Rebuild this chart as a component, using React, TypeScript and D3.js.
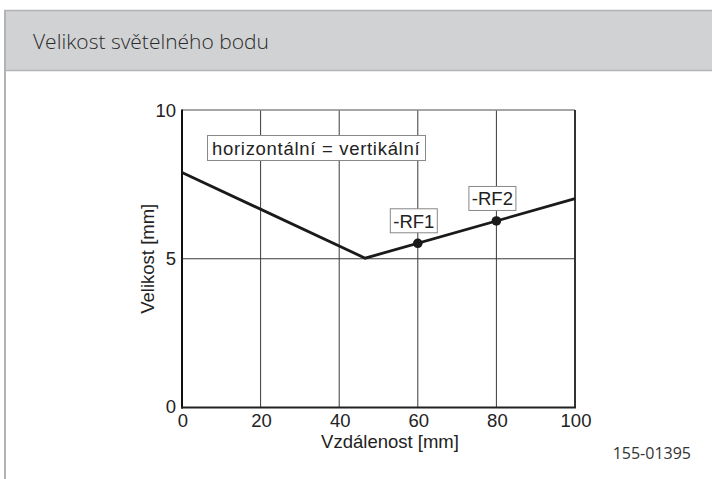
import React from "react";
import * as d3 from "d3";

const title = "Velikost světelného bodu";
const xLabel = "Vzdálenost [mm]";
const yLabel = "Velikost [mm]";
const legendText = "horizontální = vertikální";
const figId = "155-01395";

const xTicks = [0, 20, 40, 60, 80, 100];
const yTicks = [0, 5, 10];

const curveX = [0, 46.6, 100];
const curveY = [7.9, 5.02, 7.02];

const pointNames = ["-RF1", "-RF2"];
const pointX = [60, 80];
const pointY = [5.52, 6.27];

export default function App() {
  const W = 712, H = 479;
  const x = d3.scaleLinear().domain([0, 100]).range([182, 575]);
  const y = d3.scaleLinear().domain([0, 10]).range([407.5, 110]);
  const line = d3.line<number>().x((d, i) => x(curveX[i])).y((d, i) => y(curveY[i]));
  const font = "'Liberation Sans', Arial, sans-serif";
  const fs = 18.5;
  return (
    <svg width={W} height={H} style={{ position: "absolute", left: 0, top: 0, background: "#fff" }}>
      {/* header */}
      <rect x={4} y={10} width={W - 4} height={61} fill="#d1d2d4" />
      <line x1={4} x2={W} y1={10.5} y2={10.5} stroke="#b3b3b5" strokeWidth={1.5} />
      <line x1={4} x2={W} y1={70.5} y2={70.5} stroke="#b3b3b5" strokeWidth={1.5} />
      <line x1={5} x2={5} y1={10} y2={H} stroke="#b3b3b5" strokeWidth={2} />
      <text x={33} y={49} fontFamily="'Open Sans', sans-serif" fontSize={21} fontWeight={300} fill="#2b2b2b">{title}</text>

      {/* grid */}
      {xTicks.slice(1, -1).map((t) => (
        <line key={"gx" + t} x1={x(t)} x2={x(t)} y1={y(10)} y2={y(0)} stroke="#3a3a3a" strokeWidth={1} />
      ))}
      {yTicks.slice(1, -1).map((t) => (
        <line key={"gy" + t} x1={x(0)} x2={x(100)} y1={y(t)} y2={y(t)} stroke="#3a3a3a" strokeWidth={1} />
      ))}
      <line x1={x(0)} x2={x(100)} y1={y(10)} y2={y(10)} stroke="#888" strokeWidth={1.5} />
      <line x1={x(100)} x2={x(100)} y1={y(10)} y2={y(0)} stroke="#333" strokeWidth={2} />
      <line x1={x(0)} x2={x(0)} y1={y(10) - 0.5} y2={y(0) + 1} stroke="#111" strokeWidth={2} />
      <line x1={x(0) - 1} x2={x(100) + 1} y1={y(0)} y2={y(0)} stroke="#222" strokeWidth={2} />

      {/* tick labels */}
      {xTicks.map((t) => (
        <text key={"xt" + t} x={x(t) + 1} y={427} textAnchor="middle" fontFamily={font} fontSize={fs} fill="#222">{t}</text>
      ))}
      {yTicks.map((t) => (
        <text key={"yt" + t} x={x(0) - 6} y={y(t) + (t === 0 ? 5.5 : 6.5)} textAnchor="end" fontFamily={font} fontSize={fs} fill="#222">{t}</text>
      ))}
      <text x={390} y={448} textAnchor="middle" fontFamily={font} fontSize={fs} fill="#222">{xLabel}</text>
      <text transform={`translate(${154},${y(5)}) rotate(-90)`} textAnchor="middle" fontFamily={font} fontSize={fs} fill="#222">{yLabel}</text>

      {/* legend box */}
      <rect x={207.5} y={135.5} width={218} height={25} fill="#fff" stroke="#888" strokeWidth={1} />
      <text x={212} y={155} fontFamily={font} fontSize={fs} letterSpacing={0.7} fill="#222">{legendText}</text>

      {/* curve */}
      <path d={line(curveX) || ""} fill="none" stroke="#1a1a1a" strokeWidth={2.8} strokeLinejoin="miter" />
      {pointX.map((px, i) => (
        <g key={"p" + i}>
          <circle cx={x(px)} cy={y(pointY[i])} r={4.8} fill="#1a1a1a" />
          <rect x={x(px) - 27.5} y={y(pointY[i]) - 34.5} width={47} height={24} fill="#fff" stroke="#888" strokeWidth={1} />
          <text x={x(px) - 4} y={y(pointY[i]) - 15.5} textAnchor="middle" fontFamily={font} fontSize={fs} fill="#222">{pointNames[i]}</text>
        </g>
      ))}

      <text x={691} y={459} textAnchor="end" fontFamily="'Open Sans', sans-serif" fontSize={16} fill="#333">{figId}</text>
    </svg>
  );
}
